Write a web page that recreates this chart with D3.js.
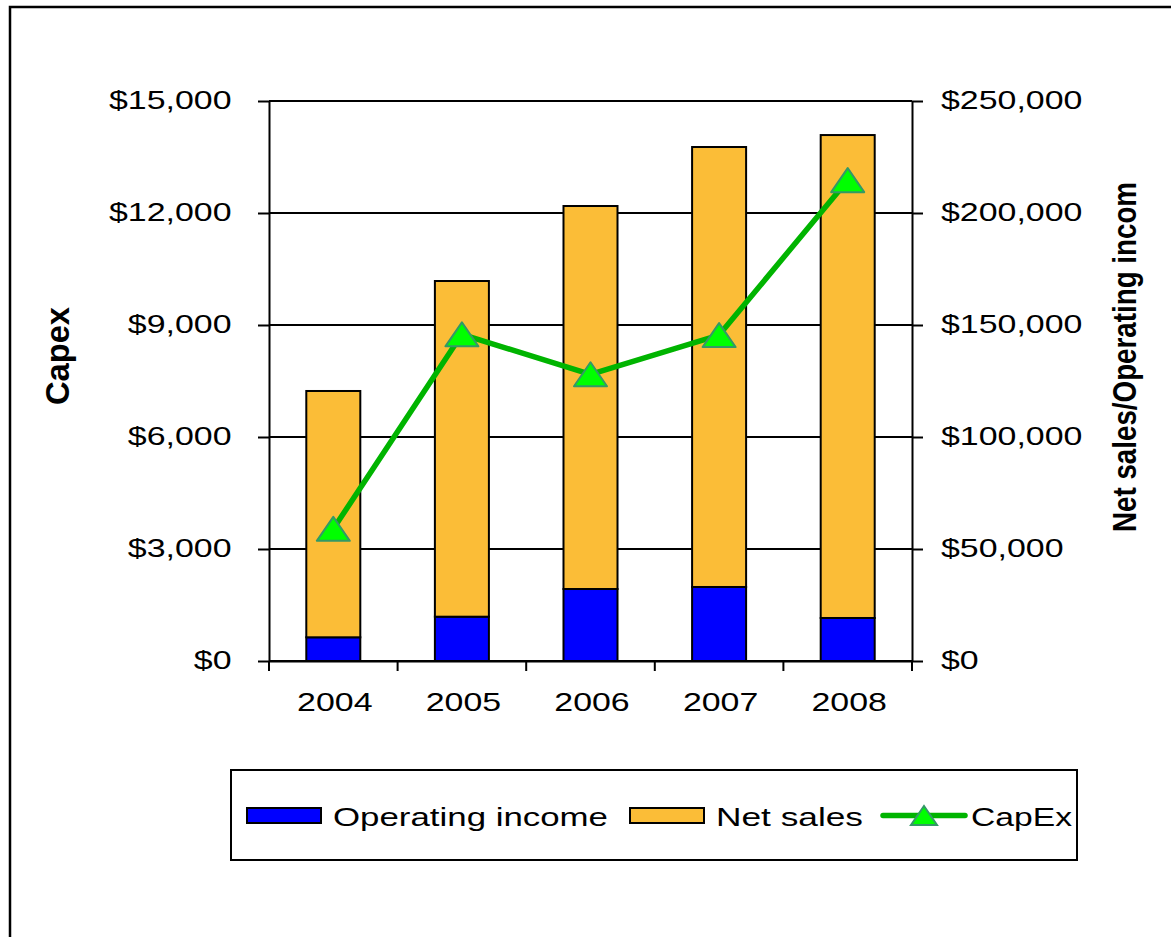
<!DOCTYPE html>
<html>
<head>
<meta charset="utf-8">
<script src="https://cdn.jsdelivr.net/npm/d3@7"></script>
<style>
  html, body { margin: 0; padding: 0; background: #fff; }
  svg { display: block; }
  text { font-family: "Liberation Sans", Arial, sans-serif; fill: #000; }
</style>
</head>
<body>
<svg id="chart" width="1171" height="937"></svg>
<script>
// Yearly figures (millions of dollars)
const years = ["2004", "2005", "2006", "2007", "2008"];
const operatingIncome = [10580, 19780, 32140, 33040, 19200];
const netSales = [109960, 149860, 170980, 196420, 215600];
const capex = [3540, 8750, 7680, 8730, 12880];

const leftTicks = [0, 3000, 6000, 9000, 12000, 15000];
const rightTicks = [0, 50000, 100000, 150000, 200000, 250000];

const seriesNames = ["Operating income", "Net sales", "CapEx"];
const seriesColors = { "Operating income": "#0000FF", "Net sales": "#FBBD37" };
const lineColor = "#00B400";
const markerFill = "#00FF00";
const markerStroke = "#339966";

// Text in this chart is drawn slightly widened
const SX = 1.28;
const FONT = 26.5;

const svg = d3.select("#chart");

// Outer chart frame
svg.append("rect")
  .attr("x", 10).attr("y", 7)
  .attr("width", 1300).attr("height", 1100)
  .attr("fill", "none").attr("stroke", "#000").attr("stroke-width", 2.5);

const plot = { left: 269, right: 912, top: 101, bottom: 661 };

const x = d3.scaleBand().domain(years).range([plot.left, plot.right]).paddingInner(0).paddingOuter(0);
const yL = d3.scaleLinear().domain([0, 15000]).range([plot.bottom, plot.top]);
const yR = d3.scaleLinear().domain([0, 250000]).range([plot.bottom, plot.top]);

const dollars = d => "$" + d3.format(",")(d);

// Horizontal gridlines
svg.append("g").selectAll("line").data(leftTicks).join("line")
  .attr("x1", plot.left).attr("x2", plot.right)
  .attr("y1", d => yL(d)).attr("y2", d => yL(d))
  .attr("stroke", "#000").attr("stroke-width", 2);

// Stacked columns
const rows = years.map((y, i) => ({ year: y, "Operating income": operatingIncome[i], "Net sales": netSales[i] }));
const stack = d3.stack().keys(["Operating income", "Net sales"])(rows);
const barW = x.bandwidth() * 0.42;

svg.append("g").selectAll("g").data(stack).join("g")
  .attr("fill", s => seriesColors[s.key])
  .selectAll("rect").data(s => s).join("rect")
  .attr("x", d => x(d.data.year) + (x.bandwidth() - barW) / 2)
  .attr("width", barW)
  .attr("y", d => yR(d[1]))
  .attr("height", d => yR(d[0]) - yR(d[1]))
  .attr("stroke", "#000").attr("stroke-width", 2);

// Left axis (CapEx)
const axL = svg.append("g").attr("transform", `translate(${plot.left},0)`)
  .call(d3.axisLeft(yL).tickValues(leftTicks).tickSize(11).tickSizeOuter(0).tickFormat(dollars));
// Right axis (Net sales / Operating income)
const axR = svg.append("g").attr("transform", `translate(${plot.right},0)`)
  .call(d3.axisRight(yR).tickValues(rightTicks).tickSize(11).tickSizeOuter(0).tickFormat(dollars));

[axL, axR].forEach(ax => {
  ax.select(".domain").attr("stroke", "#000").attr("stroke-width", 2);
  ax.selectAll(".tick line").attr("stroke", "#000").attr("stroke-width", 2);
  ax.selectAll(".tick text").attr("font-size", FONT).attr("dy", null).attr("x", null)
    .style("font-family", "'Liberation Sans', Arial, sans-serif").attr("fill", "#000");
});
axL.selectAll(".tick text").attr("transform", `translate(-37.5,7.5) scale(${SX},1)`);
axR.selectAll(".tick text").attr("transform", `translate(29,7.5) scale(${SX},1)`);

// Category axis
const axB = svg.append("g").attr("transform", `translate(0,${plot.bottom})`)
  .call(d3.axisBottom(x).tickSize(0).tickSizeOuter(0));
axB.select(".domain").attr("stroke", "#000").attr("stroke-width", 2);
axB.selectAll(".tick text").attr("font-size", FONT).attr("dy", null).attr("y", null)
  .style("font-family", "'Liberation Sans', Arial, sans-serif").attr("fill", "#000")
  .attr("transform", `translate(1.5,50) scale(${SX},1)`);
// Category boundary ticks
const edges = years.map(y => x(y)).concat([x(years[years.length - 1]) + x.bandwidth()]);
axB.selectAll("line.edge").data(edges).join("line").attr("class", "edge")
  .attr("x1", d => d).attr("x2", d => d).attr("y1", 0).attr("y2", 10)
  .attr("stroke", "#000").attr("stroke-width", 2);

// CapEx line with triangle markers
const cx = d => x(d.year) + x.bandwidth() / 2;
const capRows = years.map((y, i) => ({ year: y, v: capex[i] }));
svg.append("path").datum(capRows)
  .attr("fill", "none").attr("stroke", lineColor).attr("stroke-width", 5.5)
  .attr("stroke-linejoin", "round")
  .attr("d", d3.line().x(cx).y(d => yL(d.v)));

const tri = (w, h) => `M0,${-h / 2}L${w / 2},${h / 2}L${-w / 2},${h / 2}Z`;
svg.append("g").selectAll("path").data(capRows).join("path")
  .attr("transform", d => `translate(${cx(d)},${yL(d.v)})`)
  .attr("d", tri(33, 24))
  .attr("fill", markerFill).attr("stroke", markerStroke).attr("stroke-width", 2)
  .attr("stroke-linejoin", "round");

// Axis titles
svg.append("text")
  .attr("transform", `translate(69,356) scale(${SX},1) rotate(-90)`)
  .attr("text-anchor", "middle").attr("font-weight", "bold").attr("font-size", FONT)
  .attr("textLength", 98).attr("lengthAdjust", "spacingAndGlyphs")
  .text("Capex");
svg.append("text")
  .attr("transform", `translate(1136,357) scale(${SX},1) rotate(-90)`)
  .attr("text-anchor", "middle").attr("font-weight", "bold").attr("font-size", FONT)
  .attr("textLength", 350).attr("lengthAdjust", "spacingAndGlyphs")
  .text("Net sales/Operating incom");

// Legend
const lg = svg.append("g");
lg.append("rect").attr("x", 231).attr("y", 770).attr("width", 846).attr("height", 90)
  .attr("fill", "#fff").attr("stroke", "#000").attr("stroke-width", 2);

const legendItems = [
  { name: seriesNames[0], kind: "box", x: 247, tx: 333, tw: 275 },
  { name: seriesNames[1], kind: "box", x: 630, tx: 716, tw: 147 },
  { name: seriesNames[2], kind: "line", x: 883, tx: 971, tw: 101 }
];
legendItems.forEach(it => {
  if (it.kind === "box") {
    lg.append("rect").attr("x", it.x).attr("y", 808).attr("width", 74).attr("height", 15)
      .attr("fill", seriesColors[it.name]).attr("stroke", "#000").attr("stroke-width", 2);
  } else {
    lg.append("line").attr("x1", it.x).attr("x2", it.x + 82).attr("y1", 815.5).attr("y2", 815.5)
      .attr("stroke", lineColor).attr("stroke-width", 5.5).attr("stroke-linecap", "round");
    lg.append("path").attr("transform", `translate(${it.x + 41},815.5)`)
      .attr("d", tri(26, 19))
      .attr("fill", markerFill).attr("stroke", markerStroke).attr("stroke-width", 2);
  }
  lg.append("text").attr("x", it.tx).attr("y", 826).attr("font-size", FONT)
    .attr("textLength", it.tw).attr("lengthAdjust", "spacingAndGlyphs")
    .text(it.name);
});
</script>
</body>
</html>
